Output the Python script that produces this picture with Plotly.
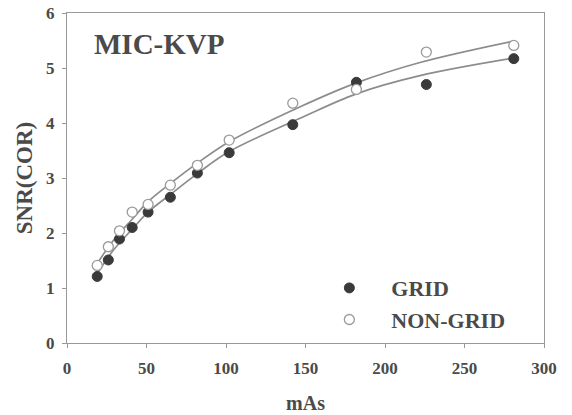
import plotly.graph_objects as go

# measured points
mas = [19, 26, 33, 41, 51, 65, 82, 102, 142, 182, 226, 281]
snr_grid = [1.21, 1.51, 1.89, 2.10, 2.38, 2.65, 3.09, 3.46, 3.97, 4.74, 4.70, 5.17]
snr_nongrid = [1.41, 1.75, 2.04, 2.38, 2.52, 2.87, 3.23, 3.69, 4.36, 4.61, 5.29, 5.41]

# fitted curves
fit_nongrid_x = [18, 29, 41, 51, 65, 82, 102, 147, 182, 222, 281]
fit_nongrid_y = [1.40, 1.86, 2.25, 2.57, 2.90, 3.27, 3.66, 4.30, 4.73, 5.10, 5.49]
fit_grid_x = [19, 29, 41, 51, 65, 82, 102, 147, 182, 222, 281]
fit_grid_y = [1.26, 1.68, 2.07, 2.38, 2.70, 3.08, 3.48, 4.09, 4.53, 4.86, 5.18]

x_ticks = [0, 50, 100, 150, 200, 250, 300]
y_ticks = [0, 1, 2, 3, 4, 5, 6]

FONT = "Liberation Serif"
TXT = "#4a4a4a"
LINE = "#8c8c8c"
PAD = "\u00a0" * 4

fig = go.Figure()
fig.add_trace(go.Scatter(x=fit_nongrid_x, y=fit_nongrid_y, mode="lines",
                         line=dict(color=LINE, width=1.7, shape="spline"),
                         showlegend=False, hoverinfo="skip"))
fig.add_trace(go.Scatter(x=fit_grid_x, y=fit_grid_y, mode="lines",
                         line=dict(color=LINE, width=1.7, shape="spline"),
                         showlegend=False, hoverinfo="skip"))
fig.add_trace(go.Scatter(x=mas, y=snr_grid, mode="markers", name=PAD + "GRID",
                         marker=dict(symbol="circle", size=10, color="#3a3a3a",
                                     line=dict(color="#3a3a3a", width=1))))
fig.add_trace(go.Scatter(x=mas, y=snr_nongrid, mode="markers", name=PAD + "NON-GRID",
                         marker=dict(symbol="circle", size=10, color="white",
                                     line=dict(color="#9a9a9a", width=1.3))))

axis_common = dict(
    showline=True, linecolor="#999999", linewidth=1.2, mirror=True,
    ticks="outside", ticklen=4, tickcolor="#999999", tickwidth=1,
    showgrid=False, zeroline=False, automargin=False,
    tickfont=dict(family=FONT, size=17, color=TXT, weight="bold"),
)

fig.update_layout(
    width=572, height=415,
    margin=dict(l=67, r=28, t=13, b=72),
    paper_bgcolor="white", plot_bgcolor="white",
    xaxis=dict(range=[0, 300], tickvals=x_ticks, ticktext=[str(v) for v in x_ticks],
               ticklabelstandoff=5,
               title=dict(text="mAs", font=dict(family=FONT, size=20, color=TXT, weight="bold"),
                          standoff=19),
               **axis_common),
    yaxis=dict(range=[0, 6], tickvals=y_ticks, ticktext=[str(v) for v in y_ticks],
               ticklabelstandoff=4,
               title=dict(text="SNR(COR)", font=dict(family=FONT, size=23, color=TXT, weight="bold"),
                          standoff=6),
               **axis_common),
    legend=dict(x=0.55, y=0.23, xanchor="left", yanchor="top",
                bgcolor="rgba(0,0,0,0)", tracegroupgap=0,
                font=dict(family=FONT, size=22, color=TXT, weight="bold"),
                itemsizing="trace"),
    annotations=[dict(text="MIC-KVP", xref="paper", yref="paper", x=0.052, y=0.906,
                      xanchor="left", yanchor="middle", showarrow=False,
                      font=dict(family=FONT, size=29, color=TXT, weight="bold"))],
)

fig.write_html("out.html", config={"displayModeBar": False},
               post_script="document.body.style.margin='0';document.body.style.overflow='hidden';")
